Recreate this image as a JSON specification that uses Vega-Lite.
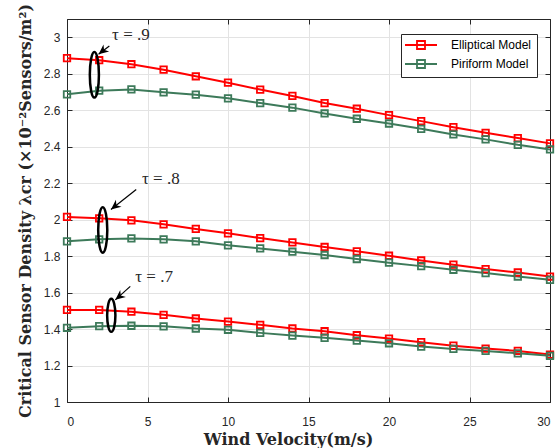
{
  "$schema": "https://vega.github.io/schema/vega-lite/v6.json",
  "width": 483,
  "height": 383,
  "autosize": "none",
  "padding": {"left": 67, "top": 19, "right": 9, "bottom": 46},
  "background": "white",
  "config": {
    "font": "Liberation Sans",
    "view": {"stroke": "#262626", "strokeWidth": 1},
    "axis": {
      "labelFontSize": 12,
      "labelColor": "#262626",
      "labelFont": "Liberation Sans",
      "domainColor": "#262626",
      "tickColor": "#262626",
      "gridColor": "#e3e3e3",
      "gridWidth": 1,
      "tickSize": -5,
      "titleFont": "DejaVu Serif",
      "titleFontWeight": "bold",
      "titleFontSize": 16,
      "titleColor": "#262626"
    }
  },
  "datasets": {
    "curves": [
      {"m":"Elliptical Model","t":"0.9","x":0,"y":2.885},{"m":"Elliptical Model","t":"0.9","x":2,"y":2.874},{"m":"Elliptical Model","t":"0.9","x":4,"y":2.852},{"m":"Elliptical Model","t":"0.9","x":6,"y":2.822},{"m":"Elliptical Model","t":"0.9","x":8,"y":2.786},{"m":"Elliptical Model","t":"0.9","x":10,"y":2.751},{"m":"Elliptical Model","t":"0.9","x":12,"y":2.713},{"m":"Elliptical Model","t":"0.9","x":14,"y":2.678},{"m":"Elliptical Model","t":"0.9","x":16,"y":2.639},{"m":"Elliptical Model","t":"0.9","x":18,"y":2.608},{"m":"Elliptical Model","t":"0.9","x":20,"y":2.573},{"m":"Elliptical Model","t":"0.9","x":22,"y":2.540},{"m":"Elliptical Model","t":"0.9","x":24,"y":2.507},{"m":"Elliptical Model","t":"0.9","x":26,"y":2.476},{"m":"Elliptical Model","t":"0.9","x":28,"y":2.447},{"m":"Elliptical Model","t":"0.9","x":30,"y":2.418},
      {"m":"Piriform Model","t":"0.9","x":0,"y":2.687},{"m":"Piriform Model","t":"0.9","x":2,"y":2.707},{"m":"Piriform Model","t":"0.9","x":4,"y":2.714},{"m":"Piriform Model","t":"0.9","x":6,"y":2.698},{"m":"Piriform Model","t":"0.9","x":8,"y":2.685},{"m":"Piriform Model","t":"0.9","x":10,"y":2.665},{"m":"Piriform Model","t":"0.9","x":12,"y":2.639},{"m":"Piriform Model","t":"0.9","x":14,"y":2.614},{"m":"Piriform Model","t":"0.9","x":16,"y":2.582},{"m":"Piriform Model","t":"0.9","x":18,"y":2.553},{"m":"Piriform Model","t":"0.9","x":20,"y":2.527},{"m":"Piriform Model","t":"0.9","x":22,"y":2.498},{"m":"Piriform Model","t":"0.9","x":24,"y":2.467},{"m":"Piriform Model","t":"0.9","x":26,"y":2.440},{"m":"Piriform Model","t":"0.9","x":28,"y":2.410},{"m":"Piriform Model","t":"0.9","x":30,"y":2.385},
      {"m":"Elliptical Model","t":"0.8","x":0,"y":2.015},{"m":"Elliptical Model","t":"0.8","x":2,"y":2.007},{"m":"Elliptical Model","t":"0.8","x":4,"y":1.996},{"m":"Elliptical Model","t":"0.8","x":6,"y":1.974},{"m":"Elliptical Model","t":"0.8","x":8,"y":1.949},{"m":"Elliptical Model","t":"0.8","x":10,"y":1.925},{"m":"Elliptical Model","t":"0.8","x":12,"y":1.899},{"m":"Elliptical Model","t":"0.8","x":14,"y":1.875},{"m":"Elliptical Model","t":"0.8","x":16,"y":1.850},{"m":"Elliptical Model","t":"0.8","x":18,"y":1.826},{"m":"Elliptical Model","t":"0.8","x":20,"y":1.802},{"m":"Elliptical Model","t":"0.8","x":22,"y":1.776},{"m":"Elliptical Model","t":"0.8","x":24,"y":1.753},{"m":"Elliptical Model","t":"0.8","x":26,"y":1.729},{"m":"Elliptical Model","t":"0.8","x":28,"y":1.710},{"m":"Elliptical Model","t":"0.8","x":30,"y":1.688},
      {"m":"Piriform Model","t":"0.8","x":0,"y":1.881},{"m":"Piriform Model","t":"0.8","x":2,"y":1.892},{"m":"Piriform Model","t":"0.8","x":4,"y":1.897},{"m":"Piriform Model","t":"0.8","x":6,"y":1.892},{"m":"Piriform Model","t":"0.8","x":8,"y":1.881},{"m":"Piriform Model","t":"0.8","x":10,"y":1.859},{"m":"Piriform Model","t":"0.8","x":12,"y":1.842},{"m":"Piriform Model","t":"0.8","x":14,"y":1.824},{"m":"Piriform Model","t":"0.8","x":16,"y":1.806},{"m":"Piriform Model","t":"0.8","x":18,"y":1.784},{"m":"Piriform Model","t":"0.8","x":20,"y":1.764},{"m":"Piriform Model","t":"0.8","x":22,"y":1.745},{"m":"Piriform Model","t":"0.8","x":24,"y":1.725},{"m":"Piriform Model","t":"0.8","x":26,"y":1.707},{"m":"Piriform Model","t":"0.8","x":28,"y":1.688},{"m":"Piriform Model","t":"0.8","x":30,"y":1.670},
      {"m":"Elliptical Model","t":"0.7","x":0,"y":1.505},{"m":"Elliptical Model","t":"0.7","x":2,"y":1.505},{"m":"Elliptical Model","t":"0.7","x":4,"y":1.495},{"m":"Elliptical Model","t":"0.7","x":6,"y":1.478},{"m":"Elliptical Model","t":"0.7","x":8,"y":1.458},{"m":"Elliptical Model","t":"0.7","x":10,"y":1.441},{"m":"Elliptical Model","t":"0.7","x":12,"y":1.423},{"m":"Elliptical Model","t":"0.7","x":14,"y":1.403},{"m":"Elliptical Model","t":"0.7","x":16,"y":1.388},{"m":"Elliptical Model","t":"0.7","x":18,"y":1.366},{"m":"Elliptical Model","t":"0.7","x":20,"y":1.348},{"m":"Elliptical Model","t":"0.7","x":22,"y":1.328},{"m":"Elliptical Model","t":"0.7","x":24,"y":1.309},{"m":"Elliptical Model","t":"0.7","x":26,"y":1.293},{"m":"Elliptical Model","t":"0.7","x":28,"y":1.280},{"m":"Elliptical Model","t":"0.7","x":30,"y":1.260},
      {"m":"Piriform Model","t":"0.7","x":0,"y":1.407},{"m":"Piriform Model","t":"0.7","x":2,"y":1.416},{"m":"Piriform Model","t":"0.7","x":4,"y":1.418},{"m":"Piriform Model","t":"0.7","x":6,"y":1.415},{"m":"Piriform Model","t":"0.7","x":8,"y":1.403},{"m":"Piriform Model","t":"0.7","x":10,"y":1.396},{"m":"Piriform Model","t":"0.7","x":12,"y":1.379},{"m":"Piriform Model","t":"0.7","x":14,"y":1.364},{"m":"Piriform Model","t":"0.7","x":16,"y":1.352},{"m":"Piriform Model","t":"0.7","x":18,"y":1.337},{"m":"Piriform Model","t":"0.7","x":20,"y":1.322},{"m":"Piriform Model","t":"0.7","x":22,"y":1.304},{"m":"Piriform Model","t":"0.7","x":24,"y":1.291},{"m":"Piriform Model","t":"0.7","x":26,"y":1.280},{"m":"Piriform Model","t":"0.7","x":28,"y":1.267},{"m":"Piriform Model","t":"0.7","x":30,"y":1.253}
    ],
    "notes": [
      {"t":"0.9","label":"τ = .9","tx":2.8,"ty":3.011,"ax1":2.63,"ay1":2.952,"ax2":1.96,"ay2":2.907,"ex":1.70,"ey":2.794},
      {"t":"0.8","label":"τ = .8","tx":4.66,"ty":2.22,"ax1":4.30,"ay1":2.165,"ax2":2.73,"ay2":2.055,"ex":2.22,"ey":1.943},
      {"t":"0.7","label":"τ = .7","tx":4.24,"ty":1.688,"ax1":3.93,"ay1":1.634,"ax2":3.00,"ay2":1.560,"ex":2.75,"ey":1.475}
    ]
  },
  "layer": [
    {
      "data": {"name": "curves"},
      "mark": {"type": "line", "strokeWidth": 2, "point": {"shape": "square", "filled": false, "size": 42, "strokeWidth": 1.8}},
      "encoding": {
        "x": {"field": "x", "type": "quantitative", "scale": {"domain": [0, 30], "nice": false},
              "axis": {"orient": "bottom", "values": [0,5,10,15,20,25,30], "title": "Wind Velocity(m/s)", "labelPadding": 19, "titlePadding": 4, "titleX": 221, "titleAlign": "center", "grid": true}},
        "y": {"field": "y", "type": "quantitative", "scale": {"domain": [1, 3.1], "nice": false, "zero": false},
              "axis": {"orient": "left", "values": [1,1.2,1.4,1.6,1.8,2,2.2,2.4,2.6,2.8,3], "format": "~g", "title": "Critical Sensor Density λcr (×10⁻²Sensors/m²)", "labelPadding": 12, "titlePadding": 10, "grid": true}},
        "color": {"field": "m", "type": "nominal",
                  "scale": {"domain": ["Elliptical Model", "Piriform Model"], "range": ["#ff0000", "#3d7a5a"]},
                  "legend": {"orient": "none", "legendX": 334, "legendY": 15, "title": null, "strokeColor": "#262626", "fillColor": "white", "padding": 5,
                             "labelFontSize": 12, "labelColor": "#000000", "symbolType": "M-3.2,0L3.2,0M-0.8,-0.8L0.8,-0.8L0.8,0.8L-0.8,0.8Z",
                             "symbolSize": 100, "symbolStrokeWidth": 1.8, "symbolFillColor": "transparent", "symbolOffset": 9, "labelOffset": 24, "rowPadding": 3}},
        "detail": {"field": "t", "type": "nominal"}
      }
    },
    {
      "data": {"name": "notes"},
      "mark": {"type": "rule", "color": "#000000", "strokeWidth": 1.2},
      "encoding": {
        "x": {"field": "ax1", "type": "quantitative", "scale": {"domain": [0, 30], "nice": false},
              "axis": {"orient": "top", "values": [0,5,10,15,20,25,30], "labels": false, "grid": false, "title": null}},
        "y": {"field": "ay1", "type": "quantitative",
              "axis": {"orient": "right", "values": [1,1.2,1.4,1.6,1.8,2,2.2,2.4,2.6,2.8,3], "labels": false, "grid": false, "title": null}},
        "x2": {"field": "ax2"},
        "y2": {"field": "ay2"}
      }
    },
    {
      "data": {"name": "notes"},
      "mark": {"type": "point", "shape": "M0,0L0.45,1L0,0.7L-0.45,1Z", "filled": true, "color": "#000000", "size": 400, "angle": 231, "opacity": 1},
      "encoding": {
        "x": {"field": "ax2", "type": "quantitative", "axis": null},
        "y": {"field": "ay2", "type": "quantitative", "axis": null}
      }
    },
    {
      "data": {"name": "notes"},
      "mark": {"type": "text", "font": "Liberation Serif", "fontSize": 17, "align": "left", "baseline": "middle", "color": "#262626"},
      "encoding": {
        "x": {"field": "tx", "type": "quantitative", "axis": null},
        "y": {"field": "ty", "type": "quantitative", "axis": null},
        "text": {"field": "label"}
      }
    },
    {
      "data": {"name": "notes"},
      "transform": [{"filter": "datum.t != '0.7'"}],
      "mark": {"type": "point", "shape": "M0,-1A0.2,1 0 1,1 0,1A0.2,1 0 1,1 0,-1Z", "filled": false, "color": "#000000", "strokeWidth": 2.5, "size": 2070, "opacity": 1},
      "encoding": {
        "x": {"field": "ex", "type": "quantitative", "axis": null},
        "y": {"field": "ey", "type": "quantitative", "axis": null}
      }
    },
    {
      "data": {"name": "notes"},
      "transform": [{"filter": "datum.t == '0.7'"}],
      "mark": {"type": "point", "shape": "M0,-1A0.25,1 0 1,1 0,1A0.25,1 0 1,1 0,-1Z", "filled": false, "color": "#000000", "strokeWidth": 2.5, "size": 1089, "opacity": 1},
      "encoding": {
        "x": {"field": "ex", "type": "quantitative", "axis": null},
        "y": {"field": "ey", "type": "quantitative", "axis": null}
      }
    }
  ],
  "resolve": {"axis": {"x": "independent", "y": "independent"}}
}
